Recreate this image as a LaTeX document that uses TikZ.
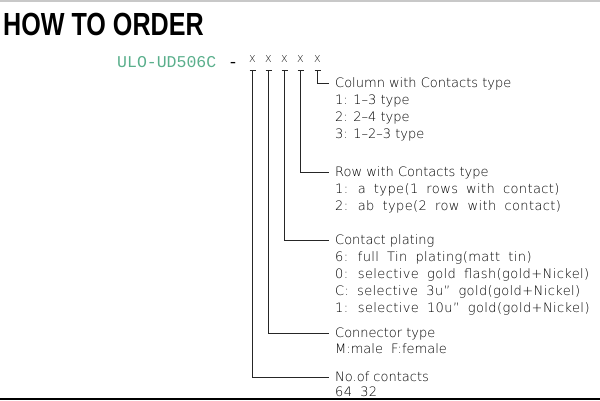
\documentclass[tikz,border=0pt]{standalone}
\usepackage{fontspec}
\setmainfont{DejaVu Sans}
\newfontfamily\cadfont{DejaVu Sans ExtraLight}
\newfontfamily\cadwide{DejaVu Sans ExtraLight}[LetterSpace=3,WordSpace=1.8]
\newfontfamily\titlefont{Liberation Sans}
\newfontfamily\codefont{Liberation Mono}
\definecolor{partgreen}{RGB}{90,175,140}
\definecolor{rulegray}{RGB}{200,200,200}
\usetikzlibrary{positioning}

\begin{document}
\begin{tikzpicture}[x=1pt,y=-1pt,
    every node/.style={inner sep=0pt},
    head/.style={anchor=west, inner xsep=6pt, text height=9pt, text depth=0pt,
        font=\cadfont\fontsize{13}{17}\selectfont},
    opts/.style={anchor=north west, align=left, inner xsep=6pt,
        font=\cadwide\fontsize{13}{17}\selectfont},
    code/.style={minimum width=6pt, minimum height=22pt,
        font=\cadfont\fontsize{9.6}{10}\selectfont},
    lead/.style={draw=black!85, line width=0.6pt}]

    \useasboundingbox (0,0) rectangle (600,400);
    \draw[rulegray, line width=1.5pt] (0,1) -- (600,1);
    \draw[black, line width=2pt] (0,399) -- (600,399);

    \node[anchor=base west] (title) at (3,35)
        {\titlefont\bfseries\fontsize{32}{32}\selectfont\scalebox{0.785}[1]{HOW TO ORDER}};

    \node[anchor=base west, text=partgreen, font=\codefont\fontsize{16.5}{16.5}\selectfont] (part) at (117,67.5) {ULO-UD506C};
    \node[anchor=base, font=\codefont\fontsize{16.5}{16.5}\selectfont] (dash) at (233,67.5) {-};

    \foreach \i/\x in {1/252.5,2/268.5,3/284.5,4/300.5,5/317.5} {
        \node[code] (x\i) at (\x,59) {X};
        \draw[lead] ([xshift=-3pt]x\i.south) -- ([xshift=3pt]x\i.south);
    }

    % headings
    \node[head] (col) at (329,83) {Column with Contacts type};
    \node[head] (row) at (329,172) {Row with Contacts type};
    \node[head] (plat) at (329,240) {Contact plating};
    \node[head] (conn) at (329,333) {Connector type};
    \node[head] (num) at (329,377) {No.of contacts};

    % options
    \node[opts, font=\cadfont\fontsize{13}{17}\selectfont] (colopt) at ([yshift=-7pt]col.base west)
        {\rule{0pt}{10pt}1: 1–3 type\\2: 2–4 type\\3: 1–2–3 type};
    \node[opts] (rowopt) at ([yshift=-7pt]row.base west)
        {\rule{0pt}{10pt}1: a type(1 rows with contact)\\2: ab type(2 row with contact)};
    \node[opts] (platopt) at ([yshift=-7pt]plat.base west)
        {\rule{0pt}{10pt}6: full Tin plating(matt tin)\\0: selective gold flash(gold+Nickel)\\C: selective 3u” gold(gold+Nickel)\\1: selective 10u” gold(gold+Nickel)};
    \node[opts, font=\cadfont\fontsize{13}{17}\selectfont] (connopt) at ([yshift=-6pt]conn.base west)
        {\rule{0pt}{10pt}\makebox[56pt][l]{M:male}F:female};
    \node[opts] (numopt) at ([yshift=-5pt]num.base west) {\rule{0pt}{10pt}64 32};

    \draw[lead] (x5.south) |- (col.west);
    \draw[lead] (x4.south) |- (row.west);
    \draw[lead] (x3.south) |- (plat.west);
    \draw[lead] (x2.south) |- (conn.west);
    \draw[lead] (x1.south) |- (num.west);
\end{tikzpicture}
\end{document}
